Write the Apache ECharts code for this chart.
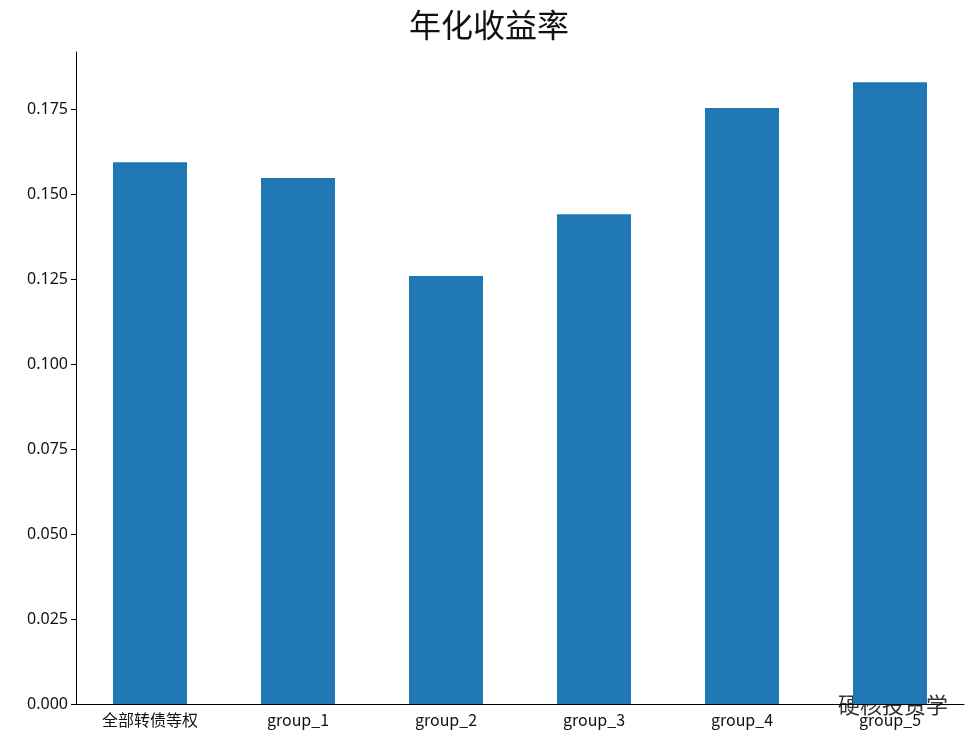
<!DOCTYPE html>
<html><head><meta charset="utf-8">
<script src="https://cdn.jsdelivr.net/npm/echarts@6/dist/echarts.min.js"></script>
<style>html,body{margin:0;padding:0;background:#fff}#c{width:978px;height:746px}</style>
</head><body><div id="c"></div>
<script>
const categories = ['全部转债等权','group_1','group_2','group_3','group_4','group_5'];
const values = [0.1594, 0.1547, 0.1259, 0.1441, 0.1753, 0.1829];
const chart = echarts.init(document.getElementById('c'));
chart.setOption({
  animation:false,
  title:{text:'年化收益率',left:'center',top:4,textStyle:{fontFamily:'Noto Sans CJK SC',fontSize:32,fontWeight:'normal',color:'#111'}},
  grid:{left:76,right:14,top:52,bottom:42},
  xAxis:{type:'category',data:categories,axisLine:{lineStyle:{color:'#000'}},axisTick:{lineStyle:{color:'#000'},length:5},
    axisLabel:{color:'#111',fontSize:16,fontFamily:'Noto Sans CJK SC',margin:8}},
  yAxis:{type:'value',min:0,max:0.1918,interval:0.025,splitLine:{show:false},
    axisLine:{show:true,lineStyle:{color:'#000'}},axisTick:{show:true,length:5,lineStyle:{color:'#000'}},
    axisLabel:{color:'#111',fontSize:16,fontFamily:'Noto Sans',showMaxLabel:false,formatter:v=>v.toFixed(3)}},
  series:[{type:'bar',data:values,barWidth:'50%',itemStyle:{color:'#1f77b4'}}],
  graphic:[{type:'text',right:30,bottom:30,style:{text:'硬核投资学',fontSize:22,fontFamily:'Noto Sans CJK SC',fill:'#333'}}]
});
</script></body></html>
